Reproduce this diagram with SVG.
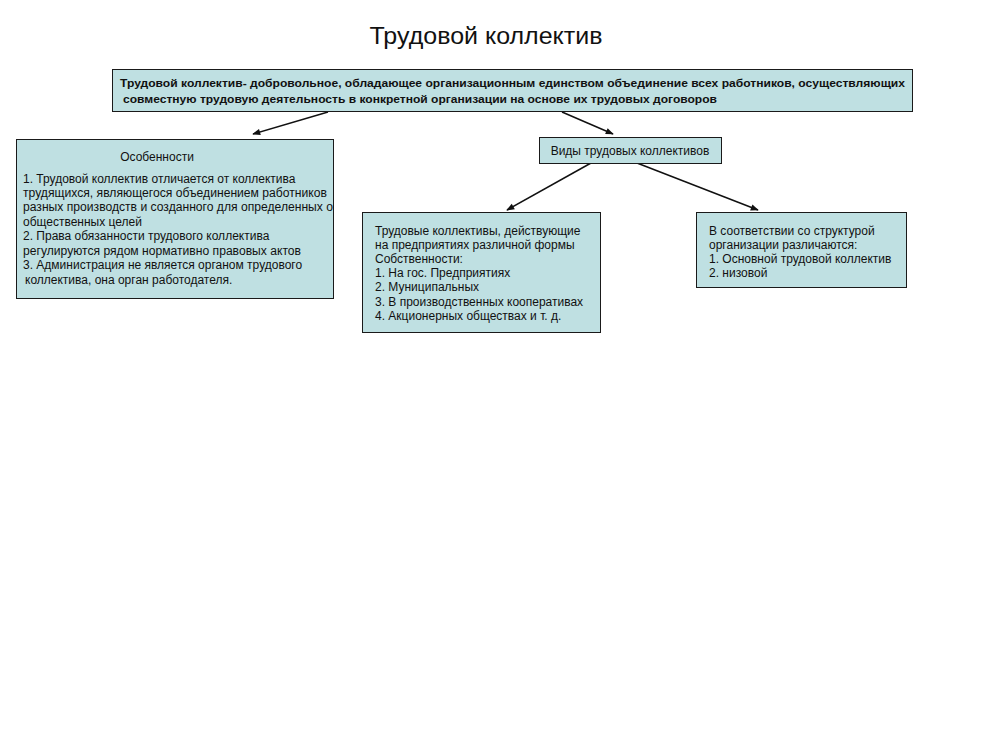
<svg xmlns="http://www.w3.org/2000/svg" width="1008" height="756" viewBox="0 0 1008 756">
<defs>
<style>
.box{fill:#bfe0e2;stroke:#1a1a1a;stroke-width:1}
.t{font-family:"Liberation Sans",Arial,sans-serif;font-size:12px;fill:#111}
.b{font-size:11px;font-weight:bold}
.title{font-family:"Liberation Sans",Arial,sans-serif;font-size:24px;fill:#111}
.c{stroke:#111;stroke-width:1.5;fill:none;marker-end:url(#ah)}
</style>
<marker id="ah" viewBox="0 0 10 10" refX="9" refY="5" markerWidth="9" markerHeight="8" orient="auto-start-reverse" markerUnits="userSpaceOnUse">
<path d="M0,1 L10,5 L0,9 z" fill="#111"/>
</marker>
</defs>
<rect width="1008" height="756" fill="#ffffff"/>
<text class="title" x="486" y="44" text-anchor="middle" textLength="233" lengthAdjust="spacingAndGlyphs">Трудовой коллектив</text>
<g id="connectors">
<line class="c" x1="328" y1="112" x2="253" y2="134"/>
<line class="c" x1="562" y1="112" x2="613" y2="134"/>
<line class="c" x1="591" y1="163" x2="507" y2="210"/>
<line class="c" x1="637" y1="163" x2="758" y2="210"/>
</g>
<g id="definition">
<rect class="box" x="112.5" y="69.5" width="800" height="42"/>
<text class="t b" x="120" y="87" textLength="785" lengthAdjust="spacingAndGlyphs">Трудовой коллектив- добровольное, обладающее организационным единством объединение всех работников, осуществляющих</text>
<text class="t b" x="123" y="103" textLength="594" lengthAdjust="spacingAndGlyphs">совместную трудовую деятельность в конкретной организации на основе их трудовых договоров</text>
</g>
<g id="features">
<rect class="box" x="16.5" y="139.5" width="317" height="159"/>
<text class="t" x="157" y="161" text-anchor="middle">Особенности</text>
<text class="t" x="23" y="183">1. Трудовой коллектив отличается от коллектива</text>
<text class="t" x="23" y="197" textLength="304" lengthAdjust="spacingAndGlyphs">трудящихся, являющегося объединением работников</text>
<text class="t" x="23" y="211" textLength="310" lengthAdjust="spacingAndGlyphs">разных производств и созданного для определенных о</text>
<text class="t" x="23" y="226">общественных целей</text>
<text class="t" x="23" y="240">2. Права обязанности трудового коллектива</text>
<text class="t" x="23" y="255" textLength="278" lengthAdjust="spacingAndGlyphs">регулируются рядом нормативно правовых актов</text>
<text class="t" x="23" y="269">3. Администрация не является органом трудового</text>
<text class="t" x="25" y="284">коллектива, она орган работодателя.</text>
</g>
<g id="types">
<rect class="box" x="539.5" y="137.5" width="182" height="26"/>
<text class="t" x="630" y="155" text-anchor="middle">Виды трудовых коллективов</text>
</g>
<g id="ownership">
<rect class="box" x="362.5" y="212.5" width="238" height="120"/>
<text class="t" x="375" y="235">Трудовые коллективы, действующие</text>
<text class="t" x="375" y="249">на предприятиях различной формы</text>
<text class="t" x="375" y="263">Собственности:</text>
<text class="t" x="375" y="277">1. На гос. Предприятиях</text>
<text class="t" x="375" y="291">2. Муниципальных</text>
<text class="t" x="375" y="306">3. В производственных кооперативах</text>
<text class="t" x="375" y="320">4. Акционерных обществах и т. д.</text>
</g>
<g id="structure">
<rect class="box" x="696.5" y="212.5" width="210" height="75"/>
<text class="t" x="709" y="235">В соответствии со структурой</text>
<text class="t" x="709" y="249">организации различаются:</text>
<text class="t" x="709" y="263">1. Основной трудовой коллектив</text>
<text class="t" x="709" y="277">2. низовой</text>
</g>
</svg>
